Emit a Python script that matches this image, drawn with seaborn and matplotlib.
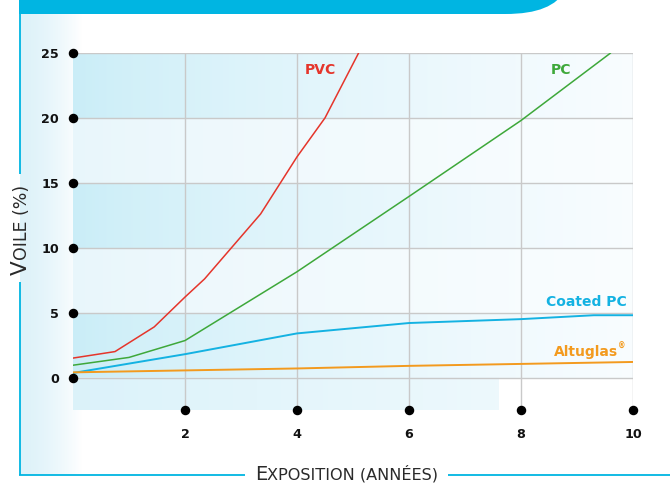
import numpy as np
import pandas as pd
import matplotlib
matplotlib.use("Agg")
import matplotlib.pyplot as plt
import seaborn as sns
from matplotlib.path import Path
from matplotlib.patches import PathPatch
from matplotlib.lines import Line2D

# ---------------- data ----------------
pvc_x = [0.0, 0.75, 1.45, 2.0, 2.35, 3.35, 4.0, 4.5, 5.1]
pvc_y = [1.5, 2.0, 3.9, 6.2, 7.6, 12.6, 17.0, 20.0, 25.0]
pc_x = [0.0, 1.0, 2.0, 4.0, 6.0, 8.0, 9.6]
pc_y = [0.95, 1.55, 2.85, 8.15, 13.95, 19.8, 25.0]
coated_x = [0.0, 2.0, 4.0, 6.0, 8.0, 9.3, 10.0]
coated_y = [0.35, 1.8, 3.4, 4.2, 4.5, 4.8, 4.8]
alt_x = [0.0, 2.0, 4.0, 6.0, 8.0, 10.0]
alt_y = [0.4, 0.55, 0.7, 0.9, 1.05, 1.2]

series_names = ["PVC", "PC", "Coated PC", "Altuglas"]
series_colors = {"PVC": "#e5352b", "PC": "#3ea83a",
                 "Coated PC": "#14b2e2", "Altuglas": "#f39a1e"}
x_ticks = [2, 4, 6, 8, 10]
y_ticks = [0, 5, 10, 15, 20, 25]

df = pd.concat([
    pd.DataFrame({"x": pvc_x, "y": pvc_y, "series": "PVC"}),
    pd.DataFrame({"x": pc_x, "y": pc_y, "series": "PC"}),
    pd.DataFrame({"x": coated_x, "y": coated_y, "series": "Coated PC"}),
    pd.DataFrame({"x": alt_x, "y": alt_y, "series": "Altuglas"}),
], ignore_index=True)

# ---------------- style ----------------
sns.set_style("white")
plt.rcParams["font.family"] = ["DejaVu Sans"]

W, H = 670, 484
fig = plt.figure(figsize=(W / 100, H / 100), dpi=100)
fig.patch.set_facecolor("white")


def P(x, y):
    return (x / W, 1 - y / H)


CYAN = "#00b5e2"

# left light strip
strip = fig.add_axes([20 / W, 1 - 475 / H, 62 / W, (475 - 14) / H], zorder=0)
t = np.linspace(0, 1, 200)
c0 = np.array([0.87, 0.95, 0.978])
c1 = np.array([1.0, 1.0, 1.0])
grad = c0[None, :] * (1 - t[:, None] ** 1.6) + c1[None, :] * (t[:, None] ** 1.6)
strip.imshow(grad[None, :, :], aspect="auto", extent=(0, 1, 0, 1), interpolation="bilinear")
strip.set_axis_off()

# main axes
ax = fig.add_axes([73 / W, 1 - 410 / H, (633 - 73) / W, (410 - 53) / H], zorder=2)
ax.set_facecolor("none")
ax.set_xlim(0, 10)
ax.set_ylim(-2.5, 25)


def band(x0, x1, y0, y1, left, right, power=0.8):
    tt = np.linspace(0, 1, 300) ** power
    l = np.array(left)
    r = np.array(right)
    img = l[None, :] * (1 - tt[:, None]) + r[None, :] * tt[:, None]
    ax.imshow(img[None, :, :], aspect="auto", extent=(x0, x1, y0, y1),
              interpolation="bilinear", zorder=0)


dark_l, dark_r = (0.79, 0.93, 0.97), (0.975, 0.99, 1.0)
light_l, light_r = (0.91, 0.965, 0.985), (0.98, 0.993, 1.0)
for y0 in y_ticks[:-1]:
    if (y0 // 5) % 2 == 0:
        band(0, 10, y0, y0 + 5, dark_l, dark_r, 0.75)
    else:
        band(0, 10, y0, y0 + 5, light_l, light_r, 0.75)
band(0, 7.6, -2.5, 0, (0.86, 0.95, 0.98), (0.93, 0.975, 0.99), 1.0)

ax.set_xticks(x_ticks)
ax.set_yticks(y_ticks)
ax.grid(True, color="#c9c9c9", linewidth=1.0, zorder=1)
ax.set_axisbelow(True)
for s in ax.spines.values():
    s.set_visible(False)
ax.tick_params(length=0)
ax.tick_params(axis="y", pad=10)
ax.tick_params(axis="x", pad=13)
ax.set_xticklabels([str(v) for v in x_ticks], fontweight="bold", fontsize=9.2, color="#111111")
ax.set_yticklabels([str(v) for v in y_ticks], fontweight="bold", fontsize=9.2, color="#111111")

# tick dots
ax.scatter([0] * len(y_ticks), y_ticks, s=34, color="black", clip_on=False, zorder=6)
ax.scatter(x_ticks, [-2.5] * len(x_ticks), s=34, color="black", clip_on=False, zorder=6)

# lines
widths = {"PVC": 1.1, "PC": 1.1, "Coated PC": 1.4, "Altuglas": 1.4}
for name in series_names:
    sub = df[df["series"] == name]
    sns.lineplot(data=sub, x="x", y="y", color=series_colors[name], lw=widths[name],
                 estimator=None, sort=False, ax=ax, zorder=4, legend=False)
ax.set_xlabel("")
ax.set_ylabel("")

# series labels
lab_kw = dict(fontweight="bold", fontsize=10, zorder=5)
ax.text(4.41, 23.7, "PVC", color=series_colors["PVC"], ha="center", va="center", **lab_kw)
ax.text(8.71, 23.7, "PC", color=series_colors["PC"], ha="center", va="center", **lab_kw)
ax.text(9.89, 5.85, "Coated PC", color=series_colors["Coated PC"], ha="right", va="center", **lab_kw)
alt = ax.text(9.74, 2.0, "Altuglas", color=series_colors["Altuglas"], ha="right", va="center", **lab_kw)
ax.annotate("®", xy=(1.0, 0.85), xycoords=alt, ha="left", va="center",
            fontsize=5.5, fontweight="bold", color=series_colors["Altuglas"])

# banner
verts = [P(19, -10), P(19, 14), P(505, 14), P(538, 14), P(556, 6), P(566, -10), P(19, -10)]
codes = [Path.MOVETO, Path.LINETO, Path.LINETO, Path.CURVE4, Path.CURVE4, Path.CURVE4, Path.CLOSEPOLY]
fig.add_artist(PathPatch(Path(verts, codes), transform=fig.transFigure,
                         facecolor=CYAN, edgecolor="none", clip_on=False))

# frame lines
def fline(p0, p1):
    fig.add_artist(Line2D([p0[0], p1[0]], [p0[1], p1[1]], transform=fig.transFigure,
                          color=CYAN, lw=1.3, solid_capstyle="butt"))

fline(P(19.5, 14), P(19.5, 174))
fline(P(19.5, 282), P(19.5, 475))
fline(P(19, 475), P(245, 475))
fline(P(448, 475), P(670, 475))

# small-caps axis labels
fig.canvas.draw()
r = fig.canvas.get_renderer()
LBL = "#2a2a2a"

e = fig.text(*P(255, 480), "E", fontsize=14, color=LBL, ha="left", va="baseline")
bb = e.get_window_extent(r)
fig.text(bb.x1 / W, 1 - 480 / H, "XPOSITION (ANNÉES)", fontsize=11.6, color=LBL,
         ha="left", va="baseline")

v = fig.text(*P(27, 275), "V", fontsize=15.5, color=LBL, ha="left", va="baseline",
             rotation=90, rotation_mode="anchor")
bb = v.get_window_extent(r)
fig.text(27 / W, bb.y1 / H, "OILE (%)", fontsize=12.5, color=LBL, ha="left",
         va="baseline", rotation=90, rotation_mode="anchor")

fig.savefig("out.png", dpi=100, facecolor="white")
